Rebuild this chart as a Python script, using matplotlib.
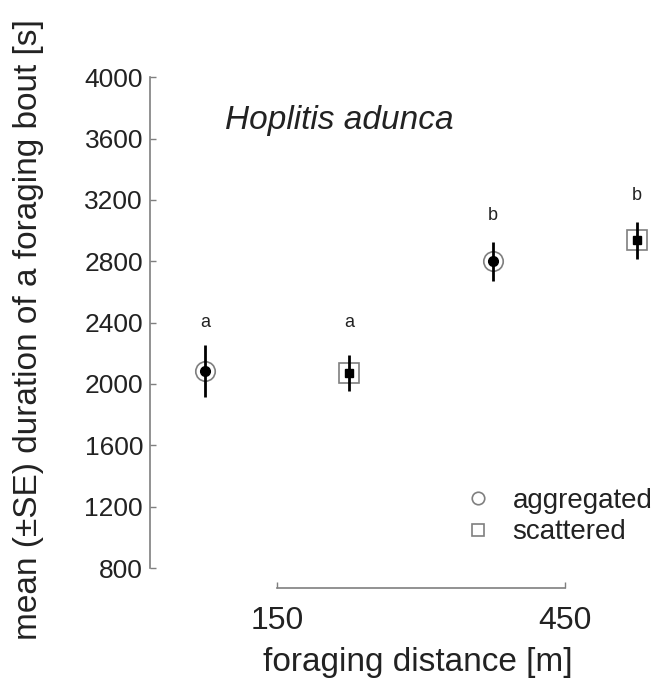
import matplotlib
matplotlib.use("Agg")
import matplotlib.pyplot as plt

# Data
distances = ["150", "450"]
groups = ["aggregated", "scattered"]
agg_mean = [2085, 2800]
agg_se = [170, 127]
sca_mean = [2072, 2938]
sca_se = [115, 120]
letters_agg = ["a", "b"]
letters_sca = ["a", "b"]
letter_y_agg = [2400, 3100]
letter_y_sca = [2400, 3230]
y_ticks = [800, 1200, 1600, 2000, 2400, 2800, 3200, 3600, 4000]

plt.rcParams["font.family"] = ["Liberation Sans", "DejaVu Sans"]
txt = "#222222"
grey = "#7f7f7f"

fig = plt.figure(figsize=(6.58, 6.84), dpi=100)
ax = fig.add_axes([0.228, 0.1404, 0.772, 0.7716])

centers = [1, 2]
off = 0.25
x_agg = [c - off for c in centers]
x_sca = [c + off for c in centers]

# aggregated: open grey circle with black dot
ax.errorbar(x_agg, agg_mean, yerr=agg_se, fmt="none", ecolor="black", elinewidth=2, capsize=0, zorder=2)
ax.plot(x_agg, agg_mean, "o", ms=14, mfc="white", mec=grey, mew=1.2, zorder=1)
ax.plot(x_agg, agg_mean, "o", ms=7, color="black", zorder=3)

# scattered: open grey square with black square
ax.errorbar(x_sca, sca_mean, yerr=sca_se, fmt="none", ecolor="black", elinewidth=2, capsize=0, zorder=2)
ax.plot(x_sca, sca_mean, "s", ms=14, mfc="white", mec=grey, mew=1.2, zorder=1)
ax.plot(x_sca, sca_mean, "s", ms=6, color="black", zorder=3)

for x, y, s in zip(x_agg, letter_y_agg, letters_agg):
    ax.text(x, y, s, ha="center", va="center", fontsize=13, color=txt)
for x, y, s in zip(x_sca, letter_y_sca, letters_sca):
    ax.text(x, y, s, ha="center", va="center", fontsize=13, color=txt)

ax.set_xlim(0.559, 2.323)
ax.set_ylim(670, 4111)

for side in ["top", "right"]:
    ax.spines[side].set_visible(False)
ax.spines["left"].set_bounds(800, 4000)
ax.spines["bottom"].set_bounds(1, 2)
for side in ["left", "bottom"]:
    ax.spines[side].set_color(grey)
    ax.spines[side].set_linewidth(1.2)

ax.set_yticks(y_ticks)
ax.set_xticks(centers)
ax.set_xticklabels(distances)
ax.tick_params(axis="y", direction="in", length=4, width=1, color=grey, labelsize=19, labelcolor=txt, pad=5)
ax.tick_params(axis="x", direction="in", length=4, width=1, color=grey, labelsize=23, labelcolor=txt, pad=13)

ax.set_ylabel("mean (\u00b1SE) duration of a foraging bout [s]", fontsize=24, color=txt)
ax.yaxis.set_label_coords(-0.209, 0.49)
ax.set_xlabel("foraging distance [m]", fontsize=24, color=txt)
ax.xaxis.set_label_coords(0.528, -0.112)

ax.text(0.148, 0.885, "Hoplitis adunca", transform=ax.transAxes, fontsize=24,
        style="italic", color=txt, ha="left", va="center")

# legend
h1, = ax.plot([], [], "o", ms=9, mfc="white", mec=grey, mew=1.2, ls="none")
h2, = ax.plot([], [], "s", ms=9, mfc="white", mec=grey, mew=1.2, ls="none")
ax.legend([h1, h2], groups, loc="upper left", bbox_to_anchor=(0.596, 0.211), frameon=False,
          fontsize=20, labelcolor=txt, handletextpad=0.75, labelspacing=0.2,
          borderaxespad=0, handlelength=1.0)

fig.savefig("out.png", dpi=100)
